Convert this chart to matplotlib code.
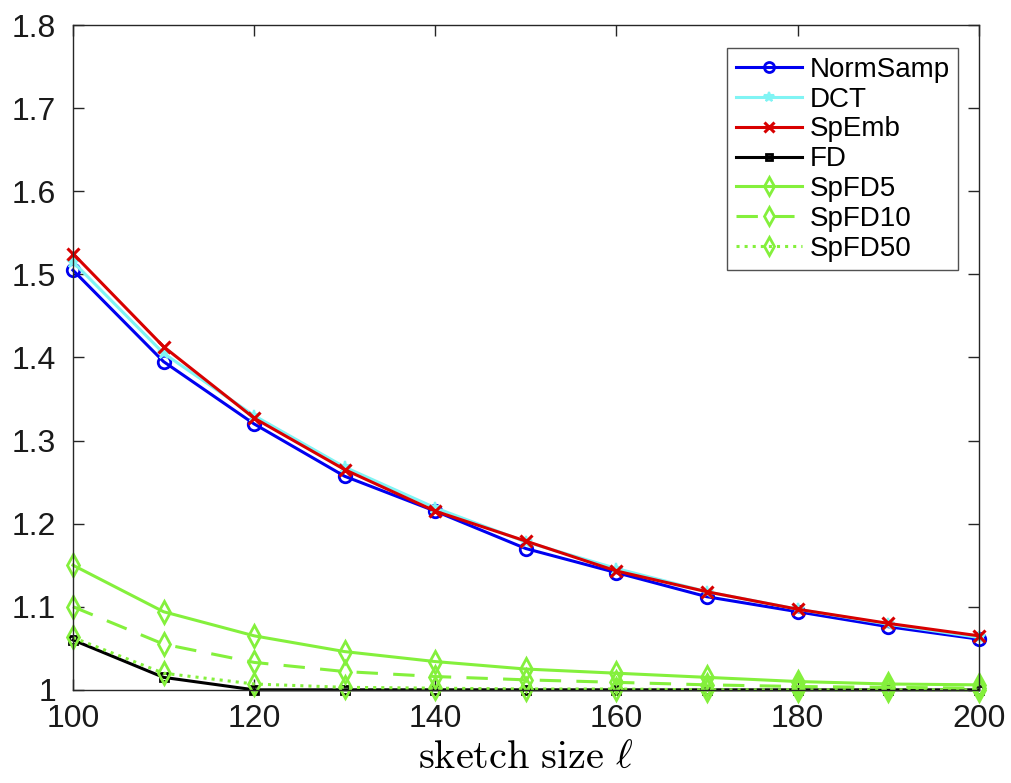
import matplotlib
matplotlib.use('Agg')
import matplotlib.pyplot as plt

plt.rcParams['font.family'] = ['Liberation Sans', 'DejaVu Sans']
plt.rcParams['mathtext.fontset'] = 'cm'

x = [100, 110, 120, 130, 140, 150, 160, 170, 180, 190, 200]

normsamp = [1.505, 1.395, 1.320, 1.257, 1.215, 1.170, 1.141, 1.112, 1.094, 1.076, 1.061]
dct      = [1.515, 1.405, 1.330, 1.268, 1.219, 1.178, 1.146, 1.118, 1.097, 1.079, 1.063]
spemb    = [1.525, 1.413, 1.327, 1.265, 1.215, 1.179, 1.143, 1.118, 1.097, 1.080, 1.065]
fd       = [1.060, 1.015, 1.000, 1.000, 1.000, 1.000, 1.000, 1.000, 1.000, 1.000, 1.000]
spfd5    = [1.150, 1.094, 1.065, 1.046, 1.034, 1.025, 1.020, 1.015, 1.010, 1.007, 1.006]
spfd10   = [1.100, 1.055, 1.033, 1.022, 1.016, 1.012, 1.009, 1.006, 1.004, 1.003, 1.002]
spfd50   = [1.063, 1.020, 1.007, 1.003, 1.002, 1.001, 1.001, 1.000, 1.000, 1.000, 1.000]

green = '#84f03c'

fig = plt.figure(figsize=(10.12, 7.83), dpi=100)
ax = fig.add_axes([0.0721, 0.119, 0.895, 0.849])

lw = 2.2
kw = dict(lw=lw, clip_on=False)
ax.plot(x, normsamp, '-o', color='#0000f0', ms=9, mfc='none', mew=2, label='NormSamp', **kw)
ax.plot(x, dct, '-*', color='#80f4f4', ms=9, mew=1.5, label='DCT', **kw)
ax.plot(x, spemb, '-x', color='#d80000', ms=9, mew=2.2, label='SpEmb', **kw)
ax.plot(x, fd, '-s', color='black', ms=6, mfc='none', mew=2, label='FD', **kw)
ax.plot(x, spfd5, '-d', color=green, ms=11, mfc='none', mew=2, label='SpFD5', **kw)
ax.plot(x, spfd10, '--d', color=green, ms=11, mfc='none', mew=2, dashes=(7, 5), label='SpFD10', **kw)
ax.plot(x, spfd50, ':d', color=green, ms=11, mfc='none', mew=2, label='SpFD50', **kw)

ax.set_xlim(100, 200)
ax.set_ylim(1, 1.8)
ax.set_xticks([100, 120, 140, 160, 180, 200])
ax.set_yticks([1, 1.1, 1.2, 1.3, 1.4, 1.5, 1.6, 1.7, 1.8])
ax.set_yticklabels(['1', '1.1', '1.2', '1.3', '1.4', '1.5', '1.6', '1.7', '1.8'])
ax.tick_params(direction='in', length=8, width=1, labelsize=23, top=True, right=True,
               colors='#262626', labelcolor='#1a1a1a')
ax.tick_params(axis='y', pad=12)
ax.tick_params(axis='x', pad=10)
for s in ax.spines.values():
    s.set_color('#262626')
    s.set_linewidth(1)

ax.set_xlabel(r'$\mathrm{sketch\ size}\ \ell$', fontsize=29, labelpad=3)

leg = ax.legend(loc='upper right', bbox_to_anchor=(0.977, 0.965), fontsize=20,
                frameon=True, fancybox=False, edgecolor='#262626', handlelength=2.4,
                handletextpad=0.25, labelspacing=0.14, borderpad=0.3, borderaxespad=0,
                markerscale=0.8)
leg.get_frame().set_linewidth(1)

fig.savefig('out.png', dpi=100)
